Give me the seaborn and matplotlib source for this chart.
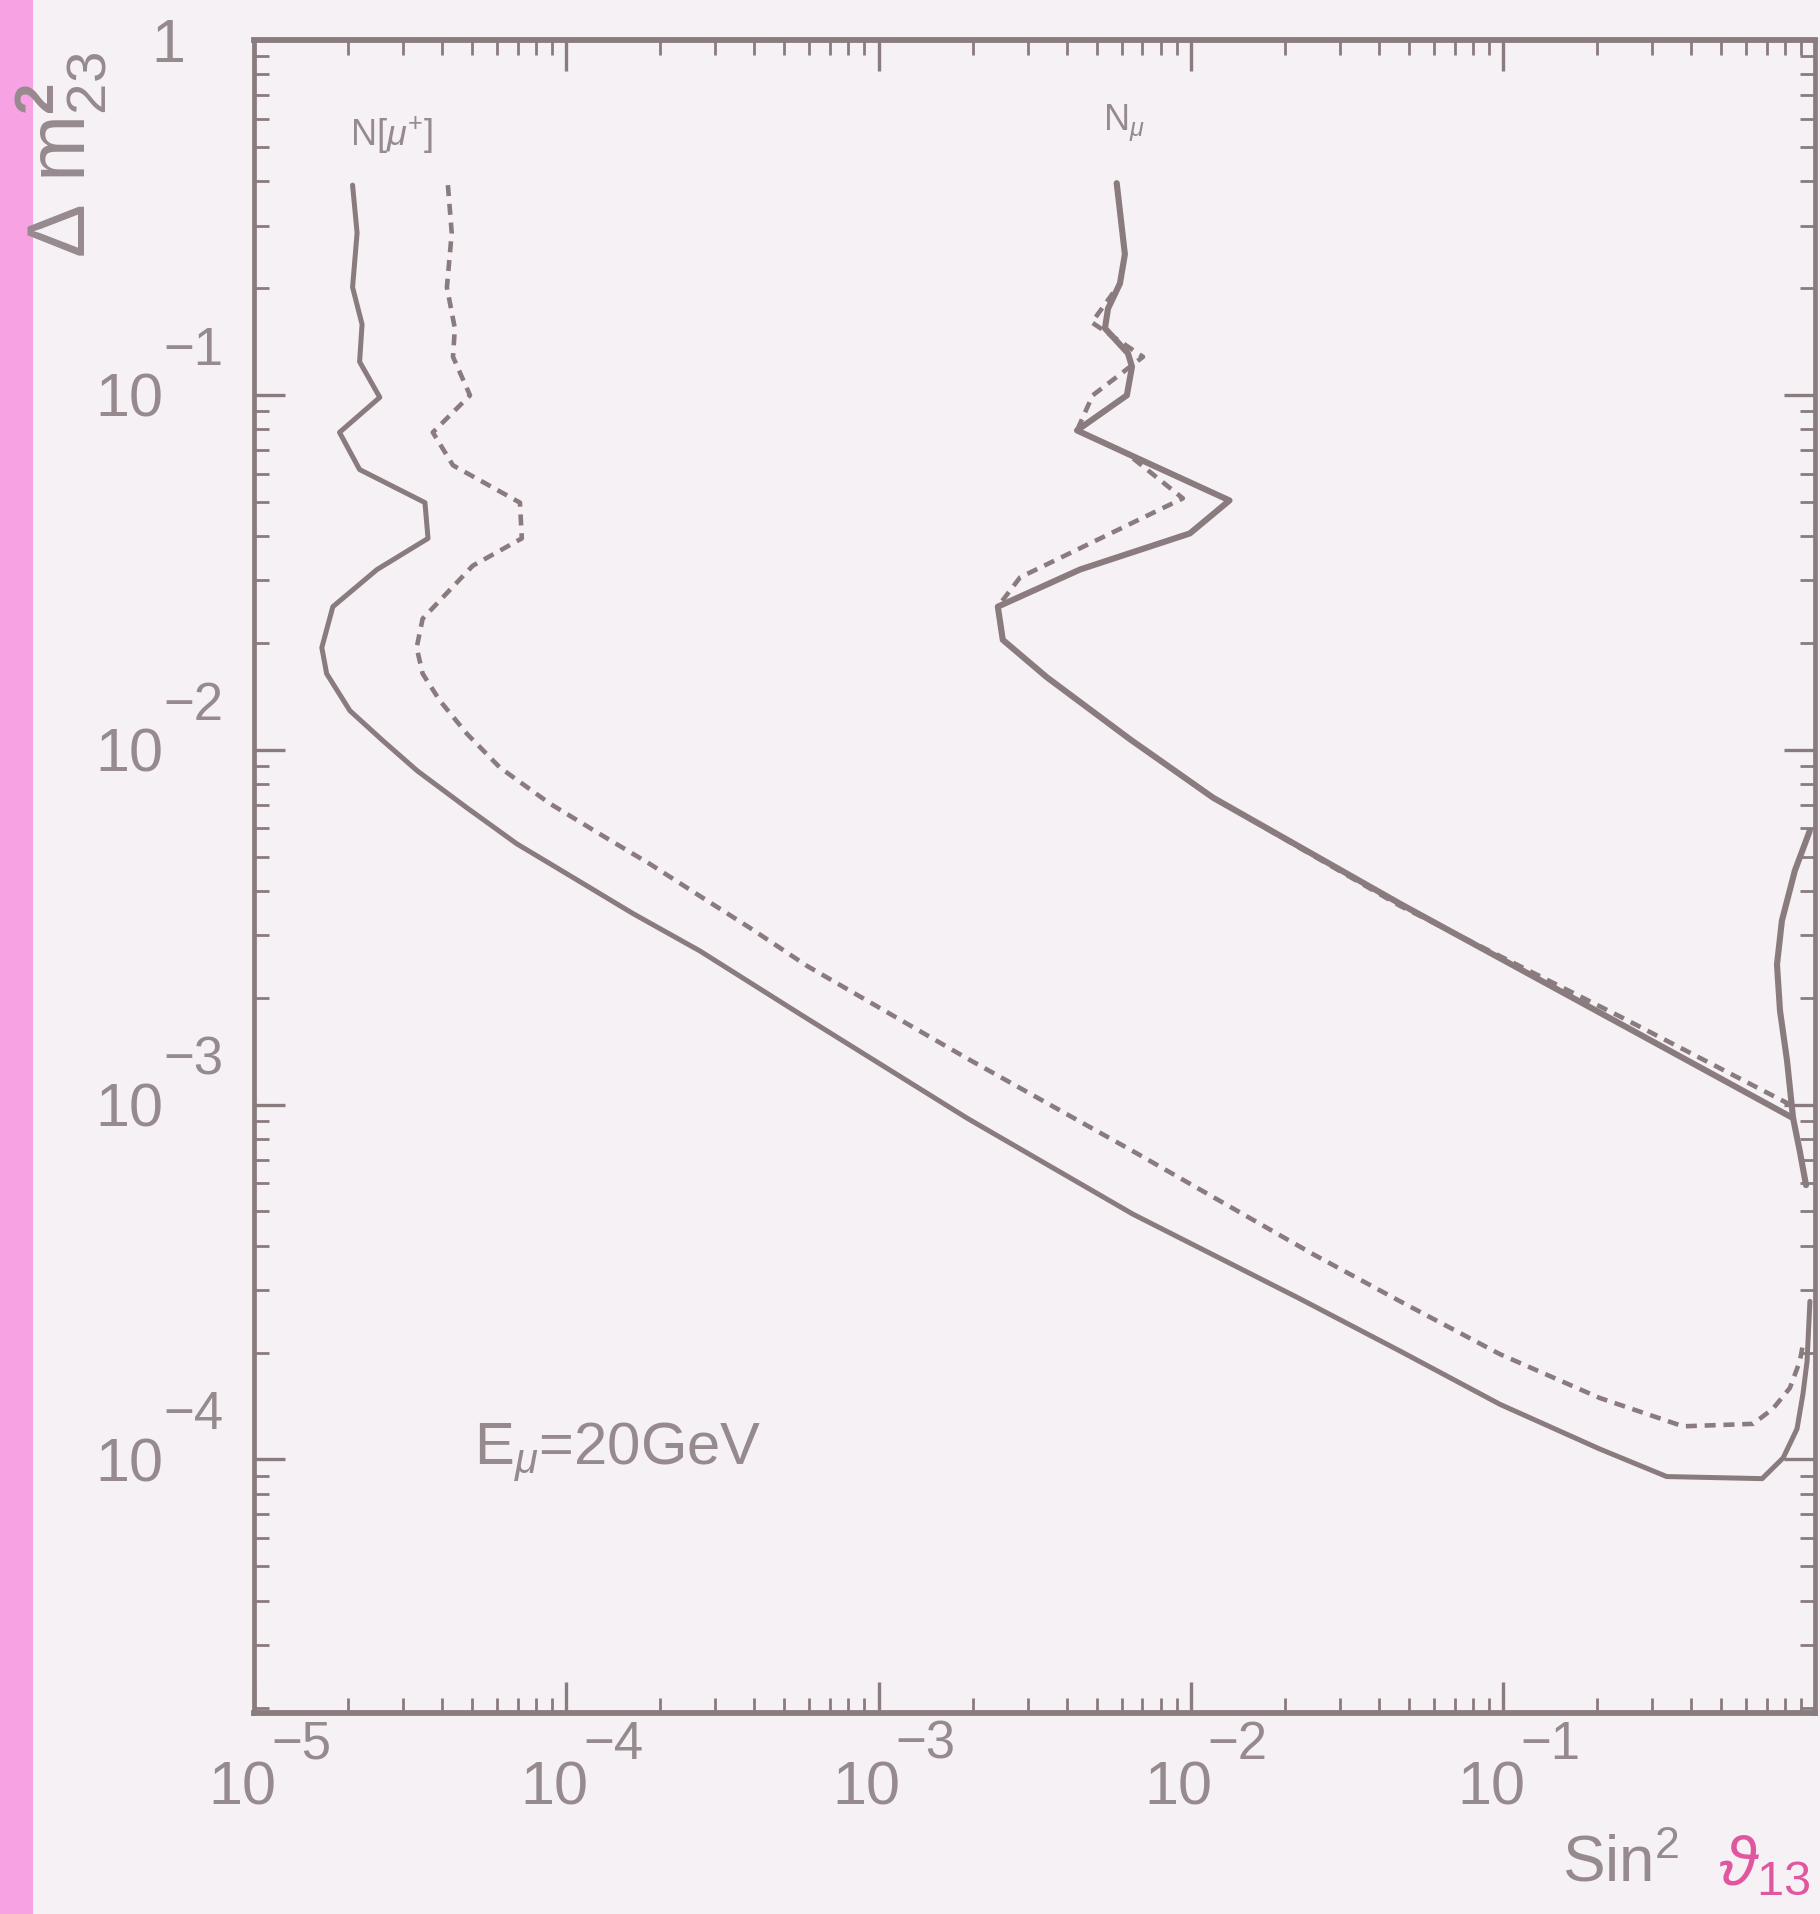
import matplotlib
matplotlib.use("Agg")
import matplotlib.pyplot as plt
import seaborn as sns
import pandas as pd
from matplotlib.ticker import FixedLocator, FixedFormatter, LogLocator, NullFormatter
from matplotlib.patches import Rectangle
from matplotlib.transforms import ScaledTranslation

# ---------------- data ----------------
# N[mu+] sensitivity, solid
npl_solid_sin2 = [2.07e-5, 2.14e-5, 2.07e-5, 2.22e-5, 2.18e-5, 2.53e-5, 1.88e-5, 2.18e-5,
                  3.53e-5, 3.61e-5, 2.48e-5, 1.79e-5, 1.65e-5, 1.71e-5, 2.03e-5, 2.59e-5,
                  3.33e-5, 4.81e-5, 6.95e-5, 1.005e-4, 1.64e-4, 2.68e-4, 5.60e-4,
                  1.92e-3, 6.53e-3, 2.23e-2, 4.68e-2, 9.77e-2, 0.204, 0.334, 0.675,
                  0.788, 0.873, 0.912, 0.940, 0.960]
npl_solid_dm2 = [0.390, 0.286, 0.201, 0.158, 0.124, 0.0984, 0.0784, 0.0616,
                 0.0497, 0.0394, 0.0322, 0.0253, 0.0194, 0.01638, 0.01288, 0.01060,
                 8.73e-3, 6.86e-3, 5.43e-3, 4.47e-3, 3.45e-3, 2.71e-3, 1.80e-3,
                 9.16e-4, 4.91e-4, 2.84e-4, 2.02e-4, 1.43e-4, 1.07e-4, 8.95e-5, 8.83e-5,
                 1.01e-4, 1.22e-4, 1.53e-4, 1.89e-4, 2.79e-4]

# N[mu+] sensitivity, dashed
npl_dash_sin2 = [4.18e-5, 4.30e-5, 4.15e-5, 4.40e-5, 4.34e-5, 4.92e-5, 3.74e-5, 4.34e-5,
                 7.11e-5, 7.21e-5, 5.02e-5, 3.47e-5, 3.32e-5, 3.47e-5, 3.94e-5, 4.81e-5,
                 6.14e-5, 8.87e-5, 1.28e-4, 1.85e-4, 2.68e-4, 3.87e-4, 5.90e-4, 1.92e-3,
                 6.53e-3, 2.46e-2, 4.68e-2, 9.77e-2, 0.204, 0.377, 0.631, 0.731,
                 0.828, 0.891, 0.912]
npl_dash_dm2 = [0.390, 0.286, 0.201, 0.154, 0.128, 0.0997, 0.0784, 0.0633,
                0.0497, 0.0394, 0.0330, 0.0234, 0.0194, 0.01638, 0.01375, 0.01109,
                8.90e-3, 7.05e-3, 5.79e-3, 4.77e-3, 3.87e-3, 3.15e-3, 2.46e-3, 1.35e-3,
                7.39e-4, 3.79e-4, 2.79e-4, 1.98e-4, 1.49e-4, 1.24e-4, 1.26e-4, 1.39e-4,
                1.59e-4, 1.89e-4, 2.11e-4]

# N_mu sensitivity, solid
nmu_solid_sin2 = [5.79e-3, 6.15e-3, 5.93e-3, 5.43e-3, 5.31e-3, 6.29e-3, 6.48e-3, 6.24e-3,
                  4.32e-3, 6.24e-3, 1.33e-2, 9.93e-3, 4.42e-3, 2.41e-3, 2.50e-3, 3.46e-3,
                  6.39e-3, 1.18e-2, 4.68e-2, 0.237, 0.848, 0.891, 0.933]
nmu_solid_dm2 = [0.395, 0.249, 0.206, 0.175, 0.154, 0.131, 0.120, 0.0997,
                 0.0794, 0.0684, 0.0504, 0.0407, 0.0322, 0.0253, 0.0204, 0.0160,
                 0.0107, 7.32e-3, 3.68e-3, 1.69e-3, 9.16e-4, 7.39e-4, 5.93e-4]

# N_mu closed part near sin^2 ~ 1, solid
nmu_loop_sin2 = [0.959, 0.859, 0.781, 0.753, 0.770, 0.811, 0.848]
nmu_loop_dm2 = [5.91e-3, 4.56e-3, 3.30e-3, 2.48e-3, 1.84e-3, 1.33e-3, 9.16e-4]

# N_mu sensitivity, dashed
nmu_dash_sin2 = [5.79e-3, 6.15e-3, 5.93e-3, 4.82e-3, 7.03e-3, 4.85e-3, 4.32e-3, 6.24e-3,
                 9.43e-3, 2.84e-3, 2.41e-3, 2.50e-3, 3.46e-3, 6.39e-3, 1.18e-2, 4.68e-2,
                 0.237, 0.848]
nmu_dash_dm2 = [0.395, 0.249, 0.206, 0.160, 0.128, 0.0997, 0.0794, 0.0684,
                0.0511, 0.0306, 0.0253, 0.0204, 0.0160, 0.0107, 7.32e-3, 3.63e-3,
                1.77e-3, 9.9e-4]

x_ticks = [1e-5, 1e-4, 1e-3, 1e-2, 1e-1]
x_exponents = ["\u22125", "\u22124", "\u22123", "\u22122", "\u22121"]
y_ticks = [1e-4, 1e-3, 1e-2, 1e-1]
y_exponents = ["\u22124", "\u22123", "\u22122", "\u22121"]
y_top_label = "1"

# ---------------- style ----------------
sns.set_theme(style="ticks")
plt.rcParams["font.family"] = ["Liberation Sans", "DejaVu Sans"]
plt.rcParams["mathtext.fontset"] = "custom"
plt.rcParams["mathtext.rm"] = "Liberation Sans"
plt.rcParams["mathtext.it"] = "Liberation Sans:italic"
plt.rcParams["mathtext.bf"] = "Liberation Sans:bold"

GRAY = "#8a7b7e"
TXT = "#968a8e"
PINK = "#e0579f"
BG = "#f5f1f4"
PX = 72 / 100.0  # points per pixel

fig = plt.figure(figsize=(18.2, 19.14), dpi=100, facecolor=BG)
ax = fig.add_axes([0.1395, 0.1051, 0.858, 0.8740])
ax.set_facecolor(BG)
ax.set_xscale("log")
ax.set_yscale("log")
ax.set_xlim(1e-5, 1.0)
ax.set_ylim(10 ** -4.714, 1.0)

fig.add_artist(Rectangle((0, 0), 33 / 1820, 1, transform=fig.transFigure,
                         facecolor="#f7a3e3", edgecolor="none", zorder=0))


def curve(xs, ys, dashed=False, lw=3.6):
    df = pd.DataFrame({"sin2": xs, "dm2": ys})
    kw = dict(data=df, x="sin2", y="dm2", sort=False, estimator=None,
              color=GRAY, ax=ax, legend=False)
    if dashed:
        sns.lineplot(**kw, lw=3.3, linestyle=(0, (2.4, 1.7)))
    else:
        sns.lineplot(**kw, lw=lw)


curve(npl_solid_sin2, npl_solid_dm2)
curve(npl_dash_sin2, npl_dash_dm2, dashed=True)
curve(nmu_dash_sin2, nmu_dash_dm2, dashed=True)
curve(nmu_solid_sin2, nmu_solid_dm2, lw=4.4)
curve(nmu_loop_sin2, nmu_loop_dm2, lw=4.4)

ax.set_xlabel("")
ax.set_ylabel("")

# ticks
ax.xaxis.set_major_locator(FixedLocator(x_ticks))
ax.xaxis.set_major_formatter(FixedFormatter(["10"] * len(x_ticks)))
ax.xaxis.set_minor_locator(LogLocator(base=10, subs=range(2, 10), numticks=50))
ax.xaxis.set_minor_formatter(NullFormatter())
ax.yaxis.set_major_locator(FixedLocator(y_ticks + [1.0]))
ax.yaxis.set_major_formatter(FixedFormatter(["10"] * len(y_ticks) + [""]))
ax.yaxis.set_minor_locator(LogLocator(base=10, subs=range(2, 10), numticks=50))
ax.yaxis.set_minor_formatter(NullFormatter())

ax.tick_params(which="both", direction="in", top=True, right=True, color=GRAY,
               labelcolor=TXT)
ax.tick_params(which="major", length=22, width=2.4)
ax.tick_params(which="minor", length=11, width=2.0)
ax.tick_params(axis="x", which="major", labelsize=44, pad=34)
ax.tick_params(axis="y", which="major", labelsize=44, pad=65)

for sp in ax.spines.values():
    sp.set_color(GRAY)
    sp.set_linewidth(3.4)
ax.spines["top"].set_linewidth(4.2)
ax.spines["bottom"].set_linewidth(4.2)

fig.canvas.draw()
for lab in ax.get_xticklabels():
    lab.set_transform(lab.get_transform() + ScaledTranslation(-0.12, 0, fig.dpi_scale_trans))

# exponents of the tick labels
for t, e in zip(x_ticks, x_exponents):
    ax.annotate(e, xy=(t, 0), xycoords=("data", "axes fraction"),
                xytext=(17 * PX, -7 * PX), textcoords="offset points",
                ha="left", va="top", fontsize=38, color=TXT, annotation_clip=False)
for t, e in zip(y_ticks, y_exponents):
    ax.annotate(e, xy=(0, t), xycoords=("axes fraction", "data"),
                xytext=(-91 * PX, 19 * PX), textcoords="offset points",
                ha="left", va="bottom", fontsize=38, color=TXT, annotation_clip=False)
ax.annotate(y_top_label, xy=(0, 1.0), xycoords=("axes fraction", "data"),
            xytext=(-86 * PX, -6 * PX), textcoords="offset points",
            ha="center", va="center", fontsize=44, color=TXT, annotation_clip=False)

# annotations
ax.text(0.088, 0.943, r"N[$\mu^{+}$]", transform=ax.transAxes, fontsize=26,
        color=TXT, ha="center", va="center")
ax.text(0.557, 0.950, r"N$_{\mu}$", transform=ax.transAxes, fontsize=26,
        color=TXT, ha="center", va="center")
ax.text(0.141, 0.149, r"E$_{\mu}$=20GeV", transform=ax.transAxes, fontsize=43,
        color=TXT, ha="left", va="baseline")

# axis titles
fig.text(0.0335, 0.919, r"$\Delta\ \mathrm{m}^{\mathbf{2}}_{23}$", rotation=90,
         fontsize=58, color=TXT, ha="center", va="center")
fig.text(0.858, 0.0413, r"Sin$^{2}$", fontsize=46, color=TXT, ha="left", va="top")
fig.text(0.944, 0.041, r"$\vartheta_{13}$", fontsize=50, color=PINK, ha="left", va="top")

fig.savefig("out.png", dpi=100, facecolor=BG)
